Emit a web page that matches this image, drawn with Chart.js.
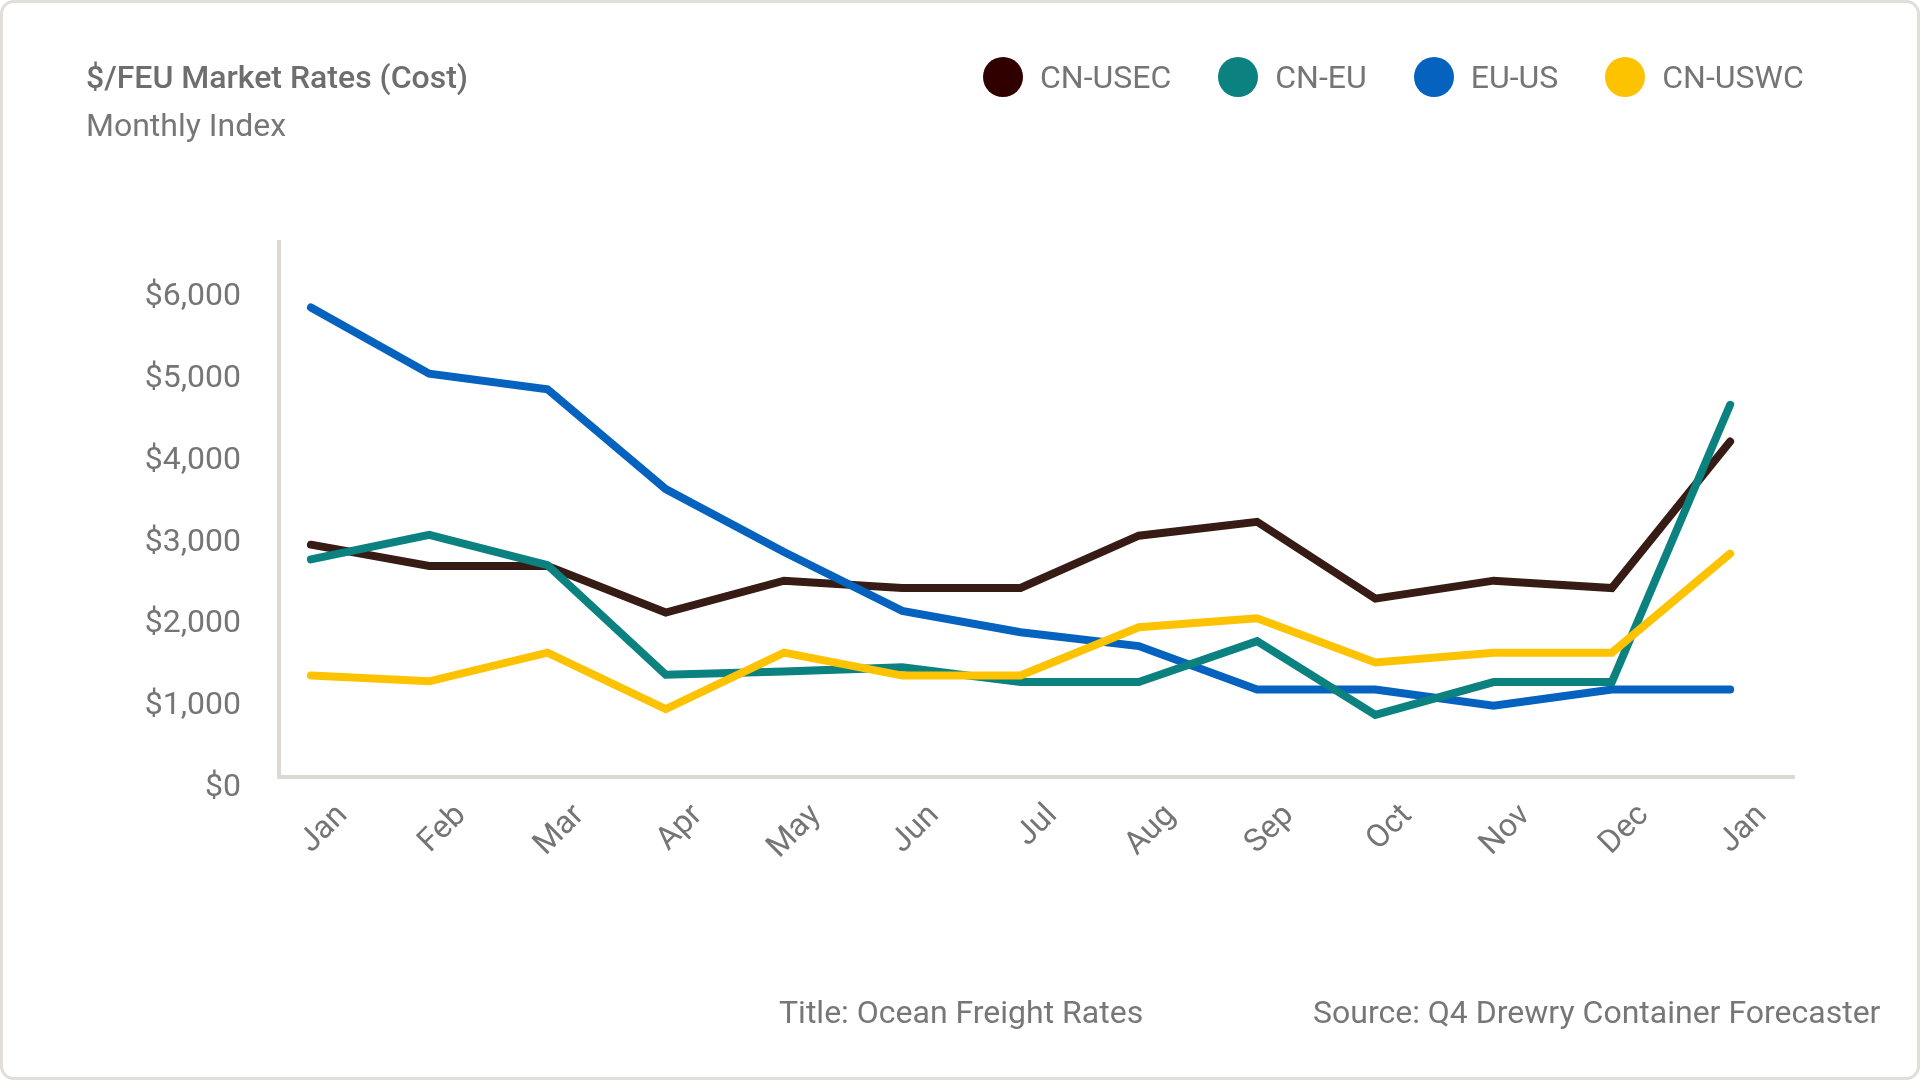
<!DOCTYPE html>
<html>
<head>
<meta charset="utf-8">
<title>Ocean Freight Rates</title>
<script src="https://cdn.jsdelivr.net/npm/chart.js@4.4.1/dist/chart.umd.min.js"></script>
<style>
  html, body { margin: 0; padding: 0; background: #fff; }
  body { width: 1920px; height: 1080px; position: relative; overflow: hidden; font-family: Roboto, "Noto Sans", sans-serif; color: #757575; }
  .card { position: absolute; left: 0; top: 0; width: 1920px; height: 1080px; box-sizing: border-box; border: 3px solid #e2dfda; border-radius: 14px; background: #fff; }
  .chart-wrap { position: absolute; left: 0; top: 0; width: 1920px; height: 1080px; }
  .title { position: absolute; left: 86px; top: 61px; font-size: 32px; line-height: 32px; font-weight: 500; color: #6e6e6e; white-space: nowrap; }
  .subtitle { position: absolute; left: 86px; top: 109px; font-size: 32px; line-height: 32px; color: #777; white-space: nowrap; }
  #legend { position: absolute; left: 983px; top: 57px; height: 40px; display: flex; align-items: center; gap: 47px; margin: 0; padding: 0; list-style: none; }
  #legend li { display: flex; align-items: center; font-size: 32px; line-height: 32px; color: #757575; white-space: nowrap; }
  #legend .dot { display: inline-block; width: 40px; height: 40px; border-radius: 50%; margin-right: 17px; }
  .footer { position: absolute; top: 996px; font-size: 32px; line-height: 32px; color: #777; white-space: nowrap; }
</style>
</head>
<body>
<div class="card"></div>
<div class="chart-wrap"><canvas id="freight"></canvas></div>
<div class="title">$/FEU Market Rates (Cost)</div>
<div class="subtitle">Monthly Index</div>
<ul id="legend"></ul>
<div class="footer" style="left:779px">Title: Ocean Freight Rates</div>
<div class="footer" style="left:1313px">Source: Q4 Drewry Container Forecaster</div>

<script>
// chart data
const months = ['Jan', 'Feb', 'Mar', 'Apr', 'May', 'Jun', 'Jul', 'Aug', 'Sep', 'Oct', 'Nov', 'Dec', 'Jan'];
const yTicks = [0, 1000, 2000, 3000, 4000, 5000, 6000];
const seriesNames = ['CN-USEC', 'CN-EU', 'EU-US', 'CN-USWC'];
const cnUsec = [2840, 2580, 2580, 2010, 2400, 2310, 2310, 2950, 3120, 2180, 2400, 2310, 4100];
const cnEu = [2660, 2960, 2590, 1250, 1290, 1340, 1160, 1160, 1660, 760, 1160, 1160, 4550];
const euUs = [5740, 4930, 4740, 3520, 2750, 2030, 1770, 1600, 1070, 1070, 870, 1070, 1070];
const cnUswc = [1240, 1170, 1520, 830, 1520, 1240, 1240, 1830, 1940, 1400, 1520, 1520, 2730];

// styling
const lineColors = ['#361c15', '#0b827f', '#0562be', '#fec300'];
const dotColors = ['#300000', '#0b827f', '#0562be', '#fec300'];
const drawOrder = [3, 1, 2, 0]; // lower = drawn on top
const textGrey = '#757575';
const axisGrey = '#dcd9d4';

Chart.defaults.font.family = 'Roboto';
Chart.defaults.color = textGrey;

const seriesValues = [cnUsec, cnEu, euUs, cnUswc];

const datasets = seriesNames.map((name, i) => ({
    label: name,
    data: seriesValues[i].map((v, idx) => ({ x: idx, y: v })),
    borderColor: lineColors[i],
    backgroundColor: dotColors[i],
    borderWidth: 8,
    borderCapStyle: 'round',
    borderJoinStyle: 'miter',
    pointRadius: 0,
    tension: 0,
    order: drawOrder[i]
}));

const chart = new Chart(document.getElementById('freight'), {
    type: 'line',
    data: { datasets: datasets },
    options: {
        responsive: true,
        maintainAspectRatio: false,
        animation: false,
        layout: { padding: { left: 0, right: 126, top: 242, bottom: 0 } },
        plugins: {
            legend: { display: false },
            tooltip: { enabled: false }
        },
        scales: {
            x: {
                type: 'linear',
                min: -0.27,
                max: 12.54,
                grid: { display: false, drawTicks: false },
                border: { display: true, color: axisGrey, width: 4 },
                afterBuildTicks: (scale) => {
                    scale.ticks = months.map((m, i) => ({ value: i }));
                },
                afterFit: (scale) => { scale.height = 303; },
                ticks: {
                    autoSkip: false,
                    minRotation: 45,
                    maxRotation: 45,
                    padding: 20,
                    labelOffset: 32,
                    color: textGrey,
                    font: { size: 32 },
                    callback: (value) => months[value]
                }
            },
            y: {
                min: 0,
                max: 6540,
                grid: { display: false, drawTicks: false },
                border: { display: true, color: axisGrey, width: 4 },
                afterBuildTicks: (scale) => {
                    scale.ticks = yTicks.map(v => ({ value: v }));
                },
                afterFit: (scale) => { scale.width = 279; },
                ticks: {
                    padding: 38,
                    labelOffset: 11,
                    color: textGrey,
                    font: { size: 32 },
                    callback: (value) => '$' + value.toLocaleString('en-US')
                }
            }
        }
    }
});

// legend built from the chart's datasets, in series order
const legendEl = document.getElementById('legend');
seriesNames.forEach((name, i) => {
    const li = document.createElement('li');
    const dot = document.createElement('span');
    dot.className = 'dot';
    dot.style.background = chart.data.datasets[i].backgroundColor;
    li.appendChild(dot);
    li.appendChild(document.createTextNode(name));
    legendEl.appendChild(li);
});
</script>
</body>
</html>
